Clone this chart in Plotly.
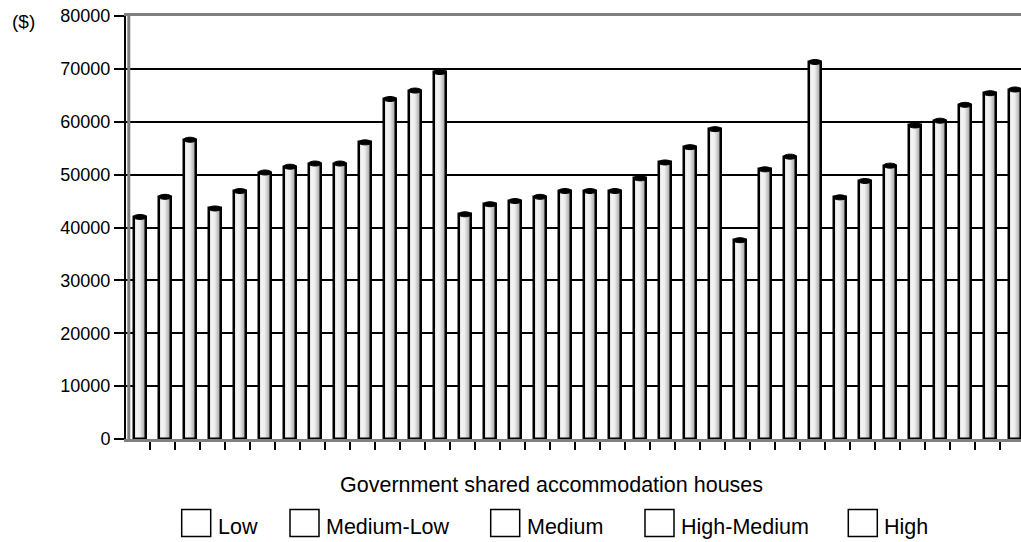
import plotly.graph_objects as go

# Household income by house, grouped by income band ($)
groups = ["Low", "Medium-Low", "Medium", "High-Medium", "High"]
low = [42000, 45800, 56600]
medium_low = [43600, 46900, 50400, 51500, 52100, 52100, 56100, 64300, 65900, 69400]
medium = [42500, 44400, 45000, 45800, 46900, 46900, 46900, 49300, 52300, 55200, 58600]
high_medium = [37600, 51000, 53400, 71300]
high = [45700, 48800, 51700, 59300, 60200, 63200, 65400, 66100]
y_ticks = [0, 10000, 20000, 30000, 40000, 50000, 60000, 70000, 80000]
x_title = "Government shared accommodation houses"
y_unit = "($)"

series = [low, medium_low, medium, high_medium, high]
values = [v for s in series for v in s]
cats = list(range(len(values)))

# ---- figure geometry (pixels) ----
W, H = 1021, 542
ML, MR, MT, MB = 126, 0, 16, 103
PW, PH = W - ML - MR, H - MT - MB
BAND = 25.0                      # pixel width of one category
FIRST_EDGE = 125.0               # pixel of the first category boundary
x_lo = (ML - FIRST_EDGE) / BAND - 0.5
x_hi = x_lo + PW / BAND

def px_x(p):
    return (p - ML) / PW

def px_y(p):
    return (H - MB - p) / PH

FONT = "Liberation Sans, Arial, sans-serif"

# ---- cylinder bars: shaded strips, then an outline on top ----
SHIFT = 0.1          # bars sit slightly right of the band centre (3-D depth)
BW = 0.46            # bar body width in category units
shades = ["#d4d4d4", "#e4e4e4", "#f1f1f1", "#f5f5f5", "#efefef",
          "#e3e3e3", "#d5d5d5", "#c7c7c7", "#b9b9b9", "#ababab"]
sw = BW / len(shades)

fig = go.Figure()
for i, c in enumerate(shades):
    fig.add_trace(go.Bar(
        x=cats, y=values, width=sw * 1.15, offset=SHIFT - BW / 2 + i * sw,
        marker=dict(color=c, line=dict(width=0)),
        showlegend=False, hoverinfo="skip"))

start = 0
for name, s in zip(groups, series):
    xs = cats[start:start + len(s)]
    fig.add_trace(go.Bar(
        x=xs, y=s, width=BW, offset=SHIFT - BW / 2, name=name,
        marker=dict(color="rgba(0,0,0,0)", line=dict(color="black", width=2.5)),
        showlegend=False,
        hovertemplate=name + ": %{y:,}<extra></extra>"))
    start += len(s)

shapes = []
# elliptical caps on top of each cylinder
cap_h = 5.0 / PH * (y_ticks[-1] - y_ticks[0])
for k, v in zip(cats, values):
    shapes.append(dict(
        type="circle", xref="x", yref="y", layer="above",
        x0=k + SHIFT - 0.26, x1=k + SHIFT + 0.26,
        y0=v - cap_h / 2, y1=v + cap_h / 2,
        fillcolor="black", line=dict(color="black", width=1)))

# grey back-wall edge next to the value axis
shapes.append(dict(type="line", xref="paper", yref="paper", layer="above",
                   x0=px_x(128.8), x1=px_x(128.8), y0=0, y1=1,
                   line=dict(color="#808080", width=3)))

annotations = [
    dict(text=y_unit, xref="paper", yref="paper", x=px_x(23), y=px_y(21),
         xanchor="center", yanchor="middle", showarrow=False,
         font=dict(family=FONT, size=19, color="black")),
    dict(text=x_title, xref="paper", yref="paper", x=px_x(551.5), y=px_y(485),
         xanchor="center", yanchor="middle", showarrow=False,
         font=dict(family=FONT, size=21.5, color="black")),
]

# legend: open boxes with the band names
legend_box_left = [181.7, 290.0, 490.7, 645.0, 848.3]
BOX_W, BOX_TOP, BOX_BOT = 29.0, 509.5, 536.5
for name, bx in zip(groups, legend_box_left):
    shapes.append(dict(type="rect", xref="paper", yref="paper",
                       x0=px_x(bx), x1=px_x(bx + BOX_W),
                       y0=px_y(BOX_BOT), y1=px_y(BOX_TOP),
                       fillcolor="white", line=dict(color="black", width=1.5)))
    annotations.append(dict(text=name, xref="paper", yref="paper",
                            x=px_x(bx + BOX_W + 5), y=px_y(527),
                            xanchor="left", yanchor="middle", showarrow=False,
                            font=dict(family=FONT, size=21.5, color="black")))

fig.update_layout(
    width=W, height=H,
    margin=dict(l=ML, r=MR, t=MT, b=MB, pad=0),
    paper_bgcolor="white", plot_bgcolor="white",
    barmode="overlay", bargap=0,
    showlegend=False,
    shapes=shapes, annotations=annotations,
    font=dict(family=FONT, color="black"),
)
# ticks on the category boundaries (k - 0.5)
fig.update_xaxes(
    range=[x_lo, x_hi], showgrid=False, zeroline=False,
    showticklabels=False, tickmode="linear", tick0=-0.5, dtick=1,
    ticks="outside", ticklen=8, tickwidth=2, tickcolor="black",
    showline=True, linecolor="#808080", linewidth=3, mirror=True,
)
fig.update_yaxes(
    range=[y_ticks[0], y_ticks[-1]], tickvals=y_ticks,
    ticktext=[str(t) for t in y_ticks],
    showgrid=True, gridcolor="black", gridwidth=2, zeroline=False,
    ticks="outside", ticklen=10, tickwidth=2, tickcolor="black",
    showline=True, linecolor="black", linewidth=2,
    tickfont=dict(family=FONT, size=18, color="black"),
)

fig.write_html("out.html")
